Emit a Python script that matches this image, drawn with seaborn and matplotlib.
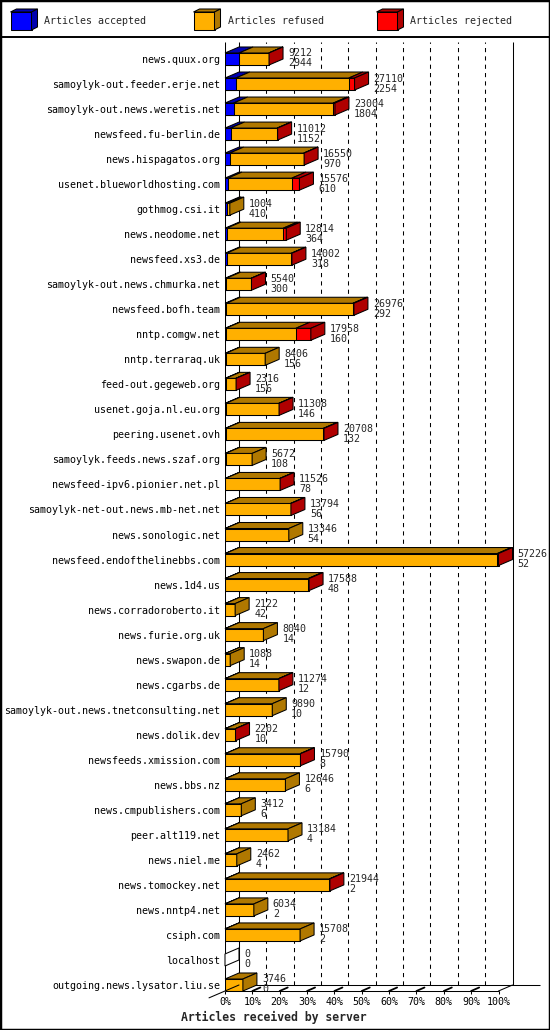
import numpy as np
import pandas as pd
import matplotlib
matplotlib.use("Agg")
import matplotlib.pyplot as plt
from matplotlib.patches import Polygon, Rectangle
from matplotlib.lines import Line2D
import seaborn as sns

# -----------------------------
# Data
# -----------------------------
servers = [
    "news.quux.org", "samoylyk-out.feeder.erje.net", "samoylyk-out.news.weretis.net",
    "newsfeed.fu-berlin.de", "news.hispagatos.org", "usenet.blueworldhosting.com",
    "gothmog.csi.it", "news.neodome.net", "newsfeed.xs3.de",
    "samoylyk-out.news.chmurka.net", "newsfeed.bofh.team", "nntp.comgw.net",
    "nntp.terraraq.uk", "feed-out.gegeweb.org", "usenet.goja.nl.eu.org",
    "peering.usenet.ovh", "samoylyk.feeds.news.szaf.org", "newsfeed-ipv6.pionier.net.pl",
    "samoylyk-net-out.news.mb-net.net", "news.sonologic.net", "newsfeed.endofthelinebbs.com",
    "news.1d4.us", "news.corradoroberto.it", "news.furie.org.uk",
    "news.swapon.de", "news.cgarbs.de", "samoylyk-out.news.tnetconsulting.net",
    "news.dolik.dev", "newsfeeds.xmission.com", "news.bbs.nz",
    "news.cmpublishers.com", "peer.alt119.net", "news.niel.me",
    "news.tomockey.net", "news.nntp4.net", "csiph.com",
    "localhost", "outgoing.news.lysator.liu.se",
]
total = [9212, 27110, 23004, 11012, 16550, 15576, 1004, 12814, 14002, 5540,
         26976, 17958, 8406, 2316, 11308, 20708, 5672, 11526, 13794, 13346,
         57226, 17588, 2122, 8040, 1088, 11274, 9890, 2202, 15790, 12646,
         3412, 13184, 2462, 21944, 6034, 15708, 0, 3746]
accepted = [2944, 2254, 1804, 1152, 970, 610, 410, 364, 318, 300,
            292, 160, 156, 156, 146, 132, 108, 78, 56, 54,
            52, 48, 42, 14, 14, 12, 10, 10, 8, 6,
            6, 4, 4, 2, 2, 2, 0, 0]
# rejected counts are not printed, estimated from the red segments
rejected = [40, 1200, 350, 100, 80, 1600, 0, 630, 100, 60,
            200, 3140, 0, 40, 60, 150, 0, 60, 80, 0,
            250, 200, 0, 0, 0, 60, 0, 30, 80, 0,
            0, 0, 0, 90, 0, 0, 0, 0]
pct_labels = ["0%", "10%", "20%", "30%", "40%", "50%", "60%", "70%", "80%", "90%", "100%"]
legend_labels = ["Articles accepted", "Articles refused", "Articles rejected"]
xlabel = "Articles received by server"

front_colors = ["#0000FF", "#FFB000", "#FF0000"]
dark_colors = ["#0000B0", "#B07800", "#B00000"]

df = pd.DataFrame({"server": servers, "total": total,
                   "accepted": accepted, "rejected": rejected})
df["refused"] = df["total"] - df["accepted"] - df["rejected"]
df["acc_ref"] = df["accepted"] + df["refused"]

# -----------------------------
# Figure geometry (pixels)
# -----------------------------
sns.set_style("white")
plt.rcParams["font.family"] = ["DejaVu Sans Mono"]
plt.rcParams["lines.scale_dashes"] = False

W, H = 550, 1030
FS = 7.2
LW = 0.75
fig = plt.figure(figsize=(W / 100, H / 100), dpi=100)

x0, x_wall = 225, 513
y_top, y_floor = 42, 991
front_len = 273.5
depth_x, depth_y = 14, 6
n = len(servers)
row0, row_last = 59, 985
pitch = (row_last - row0) / (n - 1)

ax = fig.add_axes([x0 / W, 1 - y_floor / H, (x_wall - x0) / W, (y_floor - y_top) / H])

xmax = df["total"].max()
upp = xmax / front_len          # data units per pixel
dx = depth_x * upp
dy = depth_y / pitch
half = 0.24
y_lo = n - 1 + (y_floor - row_last) / pitch
y_hi = -(row0 - y_top) / pitch

# front faces: stacked by overdrawing cumulative sums
for col, c in [("total", front_colors[2]), ("acc_ref", front_colors[1]),
               ("accepted", front_colors[0])]:
    sns.barplot(data=df, x=col, y="server", orient="y", color=c, saturation=1,
                width=2 * half, edgecolor="black", linewidth=LW, errorbar=None,
                ax=ax, zorder=3)

ax.set_xlim(0, (x_wall - x0) * upp)
ax.set_ylim(y_lo, y_hi)

# top and side faces
for i, row in df.iterrows():
    yt, yb = i - half, i + half
    segs = [(0, row["accepted"], 0), (row["accepted"], row["acc_ref"], 1),
            (row["acc_ref"], row["total"], 2)]
    last = None
    for l, r, k in segs:
        if r > l:
            ax.add_patch(Polygon([(l, yt), (r, yt), (r + dx, yt - dy), (l + dx, yt - dy)],
                                 closed=True, fc=dark_colors[k], ec="black", lw=LW,
                                 zorder=4, clip_on=False))
            last = k
    r = row["total"]
    side_fc = dark_colors[last] if last is not None else "white"
    ax.add_patch(Polygon([(r, yt), (r, yb), (r + dx, yb - dy), (r + dx, yt - dy)],
                         closed=True, fc=side_fc, ec="black", lw=LW, zorder=4, clip_on=False))
    tx = r + dx + 5 * upp
    ax.text(tx, i - 5.5 / pitch, f"{row['total']}", va="center", ha="left",
            fontsize=FS, zorder=5, clip_on=False)
    ax.text(tx, i + 4.5 / pitch, f"{row['accepted']}", va="center", ha="left",
            fontsize=FS, zorder=5, clip_on=False)

# walls, grid and floor
y_back = y_lo - dy
ax.vlines(0, y_lo, y_hi, color="black", lw=LW, zorder=1)
ax.vlines(dx, y_back, y_hi, color="black", lw=LW, zorder=1)
ax.vlines(xmax + dx, y_back, y_hi, color="black", lw=LW, zorder=1, clip_on=False)
grid_x = [k * xmax / 10 + dx for k in range(1, 10)]
ax.vlines(grid_x, y_back, y_hi, color="black", lw=LW, linestyles=(0, (3, 3)), zorder=1)
ax.hlines(y_back, dx, (540 - x0) * upp, color="black", lw=LW, zorder=1, clip_on=False)
ax.hlines(y_lo, 0, xmax, color="black", lw=LW, zorder=6, clip_on=False)
ax.plot([xmax, xmax + dx], [y_lo, y_back], color="black", lw=LW, zorder=6, clip_on=False)
ax.plot([-16 * upp, dx], [y_lo + 16 * dy / depth_x, y_back], color="black", lw=LW,
        zorder=6, clip_on=False)
tick_x = [k * xmax / 10 for k in range(1, 11)]
for t in tick_x[:-1]:
    ax.plot([t, t + 8 * upp], [y_lo, y_lo - 3.5 / pitch], color="black", lw=1.3,
            zorder=6, clip_on=False)

ax.set_xticks([k * xmax / 10 for k in range(11)], pct_labels)
ax.tick_params(axis="x", bottom=True, direction="out", length=2.2, width=LW,
               pad=2.2, labelsize=FS, colors="black")
ax.tick_params(axis="y", left=False, length=0, pad=3.6, labelsize=FS, colors="black")
ax.set_xlabel("")
ax.set_ylabel("")
for s in ax.spines.values():
    s.set_visible(False)

fig.text(273.5 / W, 1 - 1017 / H, xlabel, ha="center", va="center",
         fontsize=8.3, fontweight="bold")

# -----------------------------
# Legend strip
# -----------------------------
lax = fig.add_axes([0, 1 - 36 / H, 1, 36 / H])
lax.set_xlim(0, W)
lax.set_ylim(36, 0)
lax.axis("off")
for k, lx in enumerate([10.5, 193.5, 376.5]):
    fw, fh, ddx, ddy, ty = 21, 18, 6, 3, 12
    lax.add_patch(Rectangle((lx, ty), fw, fh, fc=front_colors[k], ec="black", lw=LW))
    lax.add_patch(Polygon([(lx, ty), (lx + fw, ty), (lx + fw + ddx, ty - ddy), (lx + ddx, ty - ddy)],
                          closed=True, fc=dark_colors[k], ec="black", lw=LW))
    lax.add_patch(Polygon([(lx + fw, ty), (lx + fw, ty + fh), (lx + fw + ddx, ty + fh - ddy),
                           (lx + fw + ddx, ty - ddy)],
                          closed=True, fc=dark_colors[k], ec="black", lw=LW))
    lax.text(lx + 34, 21, legend_labels[k], va="center", ha="left", fontsize=FS)

fig.add_artist(Line2D([0, 1], [1 - 36.5 / H] * 2, transform=fig.transFigure,
                      color="black", lw=1.4))
fig.add_artist(Rectangle((0, 0), 1, 1, transform=fig.transFigure, fill=False,
                         ec="black", lw=2.5))

fig.savefig("out.png", dpi=100, facecolor="white")
